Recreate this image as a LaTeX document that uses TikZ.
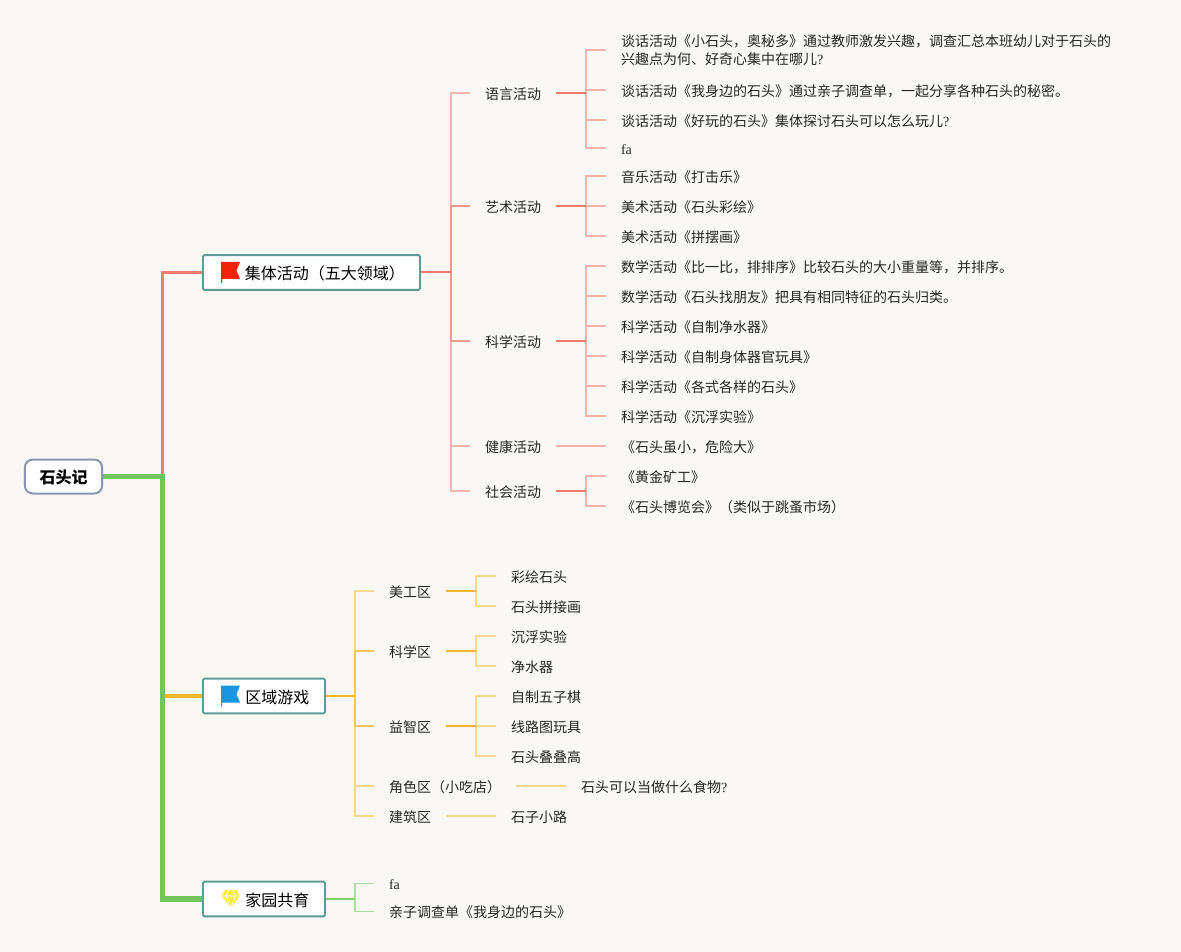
\documentclass[tikz,border=0pt]{standalone}
\usepackage{fontspec}
\setmainfont[Script=CJK,Language=Chinese Simplified]{Noto Sans CJK SC}
\newfontfamily\latinfont{Liberation Serif}
\usepackage{xcolor}
\usetikzlibrary{positioning}
\definecolor{paper}{HTML}{F9F8F5}
\definecolor{tealedge}{HTML}{5F9C94}
\definecolor{slateedge}{HTML}{8A96B0}
\definecolor{greentrunk}{HTML}{72C45C}
\definecolor{redtrunk}{HTML}{F37B70}
\definecolor{amber}{HTML}{F5B731}
\definecolor{redstem}{HTML}{F07A6C}
\definecolor{redmid}{HTML}{EF9C90}
\definecolor{redtwig}{HTML}{F5B5AC}
\definecolor{ambermid}{HTML}{F4C65E}
\definecolor{ambertwig}{HTML}{F8D890}
\definecolor{greentwig}{HTML}{ADDC9E}
\definecolor{greenstem}{HTML}{86CC70}
\definecolor{flagred}{HTML}{F3240C}
\definecolor{flagblue}{HTML}{1A96E0}
\definecolor{gemyellow}{HTML}{F6EB4A}
\tikzset{
	rootbox/.style = {
		draw=slateedge, line width=1.5pt, rounded corners=6pt, fill=white, inner sep=0pt,
		minimum width=58pt, minimum height=25.5pt, text height=11.6pt, text depth=1pt,
		font=\fontsize{12pt}{14pt}\selectfont\bfseries
	}
}
\tikzset{
	topic/.style = {
		draw=tealedge, line width=1.4pt, rounded corners=1pt, fill=white, inner sep=0pt,
		minimum height=26pt, text height=12pt, text depth=1pt, font=\fontsize{12pt}{14pt}\selectfont
	}
}
\tikzset{
	sub/.style = {
		anchor=west, inner xsep=11.25pt, inner ysep=0pt, outer sep=0pt, minimum height=22.5pt,
		text height=10.5pt, text depth=1pt, text=black!85, font=\fontsize{10.5pt}{14pt}\selectfont
	}
}
\tikzset{
	leaf/.style = {
		sub, align=left
	}
}
\tikzset{
	next/.style = {
		below=0pt of #1.south west, anchor=north west
	}
}
\tikzset{
	trunk/.style = {
		line width=2.4pt
	}
}
\tikzset{
	stem/.style = {
		line width=1.5pt
	}
}
\tikzset{
	twig/.style = {
		line width=1.1pt
	}
}
\newcommand\flagicon[2]{
	\fill[#2, shift={(#1)}] (0,0) -- (19,0) -- (15.5,8.5) -- (19,17) -- (1,17) -- (1,21) -- (0,21) -- cycle;
}
\begin{document}
\begin{tikzpicture}[x=0.75pt, y=-0.75pt]
	\fill[paper] (0,0) rectangle (1181,952);
	\useasboundingbox (0,0) rectangle (1181,952);

	\node[rootbox](Root) at (63.5,476.5){石头记};
	\node[topic, minimum width=162.75pt](GroupActivity) at (311.5,272.5){\hspace{20pt}集体活动（五大领域）};
	\node[topic, minimum width=91.5pt](AreaGame) at (264,696){\hspace{20pt}区域游戏};
	\node[topic, minimum width=91.5pt](HomeSchool) at (264,899){\hspace{20pt}家园共育};

	\node[sub](Language) at (470,93){语言活动};
	\node[sub](Art) at (470,206){艺术活动};
	\node[sub](Science) at (470,341){科学活动};
	\node[sub](Health) at (470,446){健康活动};
	\node[sub](Social) at (470,491){社会活动};

	\node[leaf, text height=, text depth=, minimum height=37.5pt](TalkOne) at (606,50){谈话活动《小石头，奥秘多》通过教师激发兴趣，调查汇总本班幼儿对于石头的\\
		兴趣点为何、好奇心集中在哪儿{\latinfont ?}};
	\node[leaf, next=TalkOne](TalkTwo){谈话活动《我身边的石头》通过亲子调查单，一起分享各种石头的秘密。};
	\node[leaf, next=TalkTwo](TalkThree){谈话活动《好玩的石头》集体探讨石头可以怎么玩儿{\latinfont ?}};
	\node[leaf, next=TalkThree, minimum height=19.5pt](TalkFa){\latinfont fa};
	\node[leaf, next=TalkFa](Music){音乐活动《打击乐》};
	\node[leaf, next=Music](Painting){美术活动《石头彩绘》};
	\node[leaf, next=Painting](Collage){美术活动《拼摆画》};
	\node[leaf, next=Collage](MathOne){数学活动《比一比，排排序》比较石头的大小重量等，并排序。};
	\node[leaf, next=MathOne](MathTwo){数学活动《石头找朋友》把具有相同特征的石头归类。};
	\node[leaf, next=MathTwo](Filter){科学活动《自制净水器》};
	\node[leaf, next=Filter](BodyToy){科学活动《自制身体器官玩具》};
	\node[leaf, next=BodyToy](Stones){科学活动《各式各样的石头》};
	\node[leaf, next=Stones](Float){科学活动《沉浮实验》};
	\node[leaf, next=Float](Danger){《石头虽小，危险大》};
	\node[leaf, next=Danger](Miner){《黄金矿工》};
	\node[leaf, next=Miner](Fair){《石头博览会》（类似于跳蚤市场）};

	\node[sub](ArtArea) at (374,591){美工区};
	\node[sub](ScienceArea) at (374,651){科学区};
	\node[sub](PuzzleArea) at (374,726){益智区};
	\node[sub](RoleArea) at (374,786){角色区（小吃店）};
	\node[sub](BuildArea) at (374,816){建筑区};

	\node[leaf](DrawStone) at (496,576){彩绘石头};
	\node[leaf, next=DrawStone](StoneCollage){石头拼接画};
	\node[leaf, next=StoneCollage](FloatTest){沉浮实验};
	\node[leaf, next=FloatTest](Purifier){净水器};
	\node[leaf, next=Purifier](Gomoku){自制五子棋};
	\node[leaf, next=Gomoku](Circuit){线路图玩具};
	\node[leaf, next=Circuit](Stack){石头叠叠高};
	\node[leaf](Food) at (566,786){石头可以当做什么食物{\latinfont ?}};
	\node[leaf](Path) at (496,816){石子小路};

	\node[leaf](HomeFa) at (374,883.5){\latinfont fa};
	\node[leaf](Survey) at (374,911.5){亲子调查单《我身边的石头》};

	\coordinate(AreaJoint) at (162.5,696);
	\draw[trunk, redtrunk] (Root.east) -- ++(59,0) |- (GroupActivity.west);
	\draw[trunk, amber] (AreaJoint) -- (AreaGame.west);
	\draw[trunk, greentrunk, line width=3.8pt] (Root.east) -- ++(59,0) |- (HomeSchool.west);

	\foreach \child/\tone in {Language/redtwig,Social/redtwig,Health/redtwig,Art/redmid,Science/redmid}
		\draw[twig, \tone] (GroupActivity.east) -- ++(30,0) |- (\child.west);
	\draw[stem, redstem] (GroupActivity.east) -- ++(30,0);
	\foreach \child in {TalkOne,TalkTwo,TalkThree,TalkFa}
		\draw[twig, redtwig] (Language.east) -- ++(30,0) |- (\child.west);
	\draw[stem, redstem] (Language.east) -- ++(30,0);
	\foreach \child in {Music,Painting,Collage}
		\draw[twig, redtwig] (Art.east) -- ++(30,0) |- (\child.west);
	\draw[stem, redstem] (Art.east) -- ++(30,0);
	\foreach \child in {MathOne,MathTwo,Filter,BodyToy,Stones,Float}
		\draw[twig, redtwig] (Science.east) -- ++(30,0) |- (\child.west);
	\draw[stem, redstem] (Science.east) -- ++(30,0);
	\draw[twig, redtwig] (Health.east) -- (Danger.west);
	\foreach \child in {Miner,Fair}
		\draw[twig, redtwig] (Social.east) -- ++(30,0) |- (\child.west);
	\draw[stem, redstem] (Social.east) -- ++(30,0);

	\foreach \child/\tone in {ArtArea/ambertwig,BuildArea/ambertwig,RoleArea/ambertwig,ScienceArea/ambermid,PuzzleArea/ambermid}
		\draw[twig, \tone] (AreaGame.east) -- ++(29,0) |- (\child.west);
	\draw[stem, amber] (AreaGame.east) -- ++(29,0);
	\foreach \child in {DrawStone,StoneCollage}
		\draw[twig, ambertwig] (ArtArea.east) -- ++(30,0) |- (\child.west);
	\draw[stem, amber] (ArtArea.east) -- ++(30,0);
	\foreach \child in {FloatTest,Purifier}
		\draw[twig, ambertwig] (ScienceArea.east) -- ++(30,0) |- (\child.west);
	\draw[stem, amber] (ScienceArea.east) -- ++(30,0);
	\foreach \child in {Gomoku,Circuit,Stack}
		\draw[twig, ambertwig] (PuzzleArea.east) -- ++(30,0) |- (\child.west);
	\draw[stem, amber] (PuzzleArea.east) -- ++(30,0);
	\draw[twig, ambertwig] (RoleArea.east) -- (Food.west);
	\draw[twig, ambertwig] (BuildArea.east) -- (Path.west);

	\foreach \child in {HomeFa,Survey}
		\draw[twig, greentwig] (HomeSchool.east) -- ++(29,0) |- (\child.west);
	\draw[stem, greenstem] (HomeSchool.east) -- ++(29,0);

	\coordinate(RedFlag) at (221,262);
	\coordinate(BlueFlag) at (221,685.5);
	\flagicon{RedFlag}{flagred}
	\flagicon{BlueFlag}{flagblue}
	\fill[gemyellow] (225,890) -- (236.5,890) -- (240,896) -- (230.7,907.5) -- (221.5,896) -- cycle;
	\draw[white, line width=0.4pt] (221.5,896) -- (240,896) (226,896) -- (230.7,907.5) -- (235.5,896) (226,896) -- (228.5,890) (235.5,896) -- (233,890);
\end{tikzpicture}
\end{document}
